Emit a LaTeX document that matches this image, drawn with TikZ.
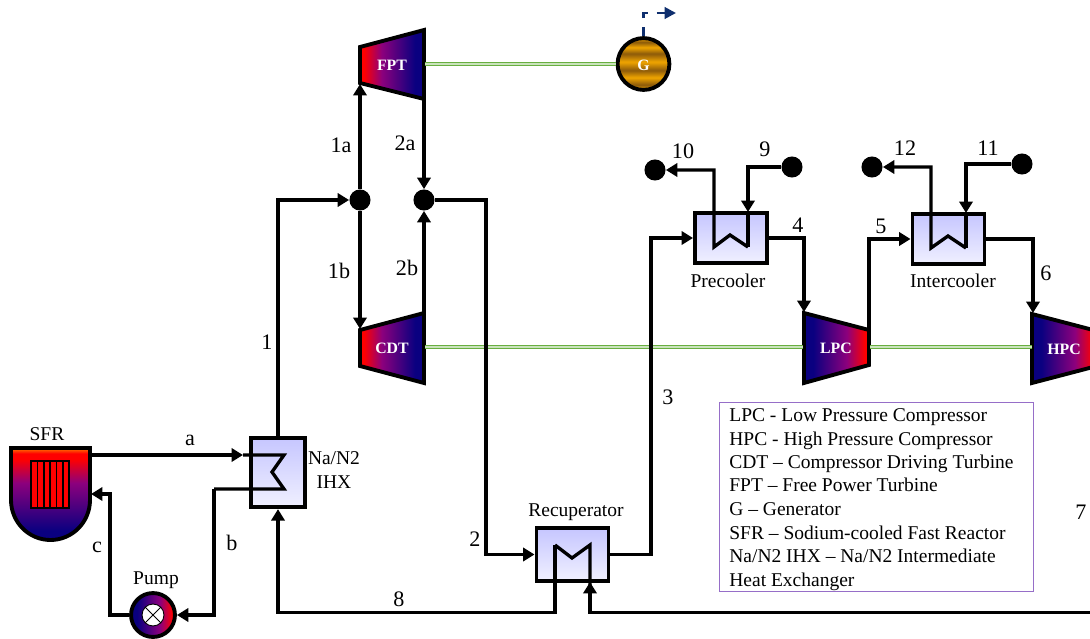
\documentclass[tikz,border=0pt]{standalone}
\usepackage{fontspec}
\setmainfont{Liberation Serif}
\usetikzlibrary{arrows.meta}
\definecolor{shaftgreen}{RGB}{105,175,65}
\definecolor{hotred}{RGB}{255,0,0}
\definecolor{midpurple}{RGB}{140,0,125}
\definecolor{coldblue}{RGB}{10,0,128}
\definecolor{gold}{RGB}{240,165,0}
\definecolor{bronze}{RGB}{140,90,10}
\definecolor{signalblue}{RGB}{15,47,110}
\definecolor{hxtop}{RGB}{198,198,255}
\definecolor{hxbottom}{RGB}{240,240,255}
\definecolor{legendline}{RGB}{150,110,200}
\pgfdeclarehorizontalshading{hotcold}{100bp}{color(0bp)=(orange); color(25bp)=(orange); color(26bp)=(hotred); color(28bp)=(hotred); color(42bp)=(midpurple); color(68bp)=(coldblue); color(100bp)=(coldblue)}
\pgfdeclarehorizontalshading{coldhot}{100bp}{color(0bp)=(coldblue); color(32bp)=(coldblue); color(58bp)=(midpurple); color(72bp)=(hotred); color(75bp)=(hotred); color(100bp)=(hotred)}
\pgfdeclareverticalshading{hottop}{100bp}{color(0bp)=(coldblue); color(30bp)=(coldblue); color(56bp)=(midpurple); color(69bp)=(hotred); color(72bp)=(hotred); color(75bp)=(orange); color(100bp)=(orange)}
\pgfdeclareverticalshading{genbands}{100bp}{color(0bp)=(gold); color(25bp)=(gold); color(30bp)=(bronze); color(37bp)=(gold); color(44bp)=(bronze); color(52bp)=(gold); color(60bp)=(bronze); color(66bp)=(gold); color(71bp)=(bronze); color(75bp)=(gold); color(100bp)=(gold)}
\tikzset{
    flow/.style={line width=1.9pt,-{Triangle[length=6.5pt,width=7.5pt]}},
    pipe/.style={line width=1.9pt,line join=miter},
    shaft/.style={draw=shaftgreen,line width=1pt,double=shaftgreen!35!white,double distance=0.8pt},
    hx/.style={draw,line width=2.2pt,top color=hxtop,bottom color=hxbottom,inner sep=0pt},
    casing/.style={draw,line width=2.2pt},
    joint/.style={circle,fill=black,inner sep=0pt,minimum size=12pt},
    lbl/.style={inner sep=0pt,font=\fontsize{12.6}{15}\selectfont},
    small/.style={inner sep=0pt,font=\fontsize{11.1}{13}\selectfont},
    tag/.style={inner sep=0pt,text=white,font=\fontsize{9}{11}\selectfont\bfseries}
}
\begin{document}
\begin{tikzpicture}[x=0.02cm,y=-0.02cm]
    \clip (0,0) rectangle (1090,639);

    % turbines and compressors
    \draw[casing,shading=hotcold] (360,47) -- (424,30) -- (424,99) -- (360,83) -- cycle;
    \draw[casing,shading=hotcold] (360,330) -- (424,313) -- (424,383) -- (360,366) -- cycle;
    \draw[casing,shading=coldhot] (804,313) -- (869,330) -- (869,365) -- (804,383) -- cycle;
    \draw[casing,shading=coldhot] (1032,314) -- (1097,331) -- (1097,366) -- (1032,383) -- cycle;
    \node[tag] (fpt) at (392,65) {FPT};
    \node[tag] (cdt) at (392,348) {CDT};
    \node[tag] (lpc) at (836,348) {LPC};
    \node[tag] (hpc) at (1064,349) {HPC};

    % ports on the casings
    \coordinate (fptin) at (360,84);
    \coordinate (fptout) at (424,99);
    \coordinate (fptshaft) at (425,64);
    \coordinate (cdtin) at (360,329);
    \coordinate (cdtout) at (424,313);
    \coordinate (cdtshaft) at (425,347);
    \coordinate (lpcin) at (804,312);
    \coordinate (lpcout) at (869,330);
    \coordinate (lpcshafta) at (803,347);
    \coordinate (lpcshaftb) at (870,347);
    \coordinate (hpcin) at (1033,313);
    \coordinate (hpcshaft) at (1032,347);
    \coordinate (return) at (1090,612.5);

    % generator
    \node[circle,draw,line width=2.2pt,shading=genbands,minimum size=29.5pt,inner sep=0pt] (gen) at (643.5,64) {};
    \node[tag] (gentag) at (643.5,65) {G};
    \coordinate (gridturn) at (643.5,13);
    \coordinate (gridend) at (676,13);

    % shafts
    \draw[shaft] (fptshaft) -- (gen.west);
    \draw[shaft] (cdtshaft) -- (lpcshafta);
    \draw[shaft] (lpcshaftb) -- (hpcshaft);
    \draw[signalblue,line width=1.7pt,dash pattern=on 5.3pt off 5pt,-{Triangle[length=6.5pt,width=6.5pt]}] (gen.north) -- (gridturn) -- (gridend);

    % heat exchangers
    \node[hx,minimum width=41pt,minimum height=28.5pt] (precooler) at (731,238) {};
    \node[hx,minimum width=41pt,minimum height=28.5pt] (intercooler) at (948.5,239) {};
    \node[hx,minimum width=41pt,minimum height=30pt] (recuperator) at (572.5,554.5) {};
    \node[hx,minimum width=31pt,minimum height=39.5pt] (ihx) at (278,472.5) {};

    % reactor
    \draw[casing,shading=hottop] (11,448) -- (90,448) -- (90,500) arc[start angle=0,end angle=-180,x radius=39.5,y radius=-40] -- cycle;
    \draw[line width=1.2pt,fill=hotred] (31,461) rectangle (69,508);
    \foreach \x in {37.5,44,50,56.5,63}
        \draw[line width=0.6pt] (\x,461) -- (\x,508);
    \coordinate (sfrout) at (91,455);
    \coordinate (sfrin) at (91,494);

    % pump
    \node[circle,draw,line width=2.2pt,shading=coldhot,minimum size=25pt,inner sep=0pt] (pump) at (153,615) {};
    \node[circle,draw,line width=0.5pt,fill=white,minimum size=12.5pt,inner sep=0pt] (rotor) at (153,615) {};
    \draw[line width=0.5pt] (rotor.north west) -- (rotor.south east);
    \draw[line width=0.5pt] (rotor.north east) -- (rotor.south west);

    % joints and end points
    \foreach \n/\x/\y in {split/360/200,merge/424/200,out10/655/170,in9/792/167,out12/872/167,in11/1022/164}
        \node[joint] (\n) at (\x,\y) {};

    % reactor loop
    \draw[flow] (sfrout) -- (243,455);
    \draw[pipe] (243,455) -- (284,455) -- (272,472) -- (284,489) -- (214,489);
    \draw[flow] (214,489) |- (pump.east);
    \draw[flow] (pump.west) -| (110,494) -- (sfrin);

    % main cycle
    \draw[flow] (ihx.north) |- (split.west);
    \draw[flow] (split.north) -- (fptin);
    \draw[flow] (split.south) -- (cdtin);
    \draw[flow] (fptout) -- (merge.north);
    \draw[flow] (cdtout) -- (merge.south);
    \draw[flow] (merge.east) -| (486,554.5) -- (recuperator.west);
    \draw[flow] (recuperator.east) -- (651,554.5) |- (precooler.west);
    \draw[flow] (precooler.east) -| (lpcin);
    \draw[flow] (lpcout) |- (intercooler.west);
    \draw[flow] (intercooler.east) -| (hpcin);
    \draw[pipe] (555,545) -- (572,558) -- (590,545) -- (590,585);
    \draw[flow] (555,545) -- (555,612.5) -| (ihx.south);
    \draw[flow] (return) -| (590,582);

    % coolers
    \draw[flow] (748,247) -- (730,235) -- (714,247) |- (out10.east);
    \draw[flow] (in9.west) -| (748,212);
    \draw[pipe] (748,212) -- (748,247);
    \draw[flow] (966,248) -- (948,236) -- (931,248) |- (out12.east);
    \draw[flow] (in11.west) -| (966,213);
    \draw[pipe] (966,213) -- (966,248);

    % labels
    \foreach \n/\x/\y/\t in {la/190/440/a,lb/232/543/b,lc/97/547/c,lone/267/342/1,loa/341/145/1a,lob/339/271/1b,lta/405/143/2a,ltb/407/268/2b,ltwo/475/539/2,lthree/668/397/3,lfour/798/225/4,lfive/881/226/5,lsix/1046/273/6,lseven/1081/512/7,leight/399/599/8,lnine/765/149/9,lten/683/151/10,leleven/988/148/11,ltwelve/905/148/12}
        \node[lbl] (\n) at (\x,\y) {\t};
    \foreach \n/\x/\y/\t in {lsfr/47/434/SFR,lpump/156/580/Pump,lrecup/576/512/Recuperator,lprecool/728/281/Precooler,lintercool/953/281/Intercooler,lna/334/458/{Na/N2},lihx/334/482/IHX}
        \node[small] (\n) at (\x,\y) {\t};

    % legend
    \node[draw=legendline,line width=0.5pt,minimum width=178.5pt,minimum height=108pt,inner sep=0pt] (legend) at (876.5,497) {};
    \foreach \n/\y/\t in {a/421/LPC - Low Pressure Compressor,b/445/HPC - High Pressure Compressor,c/468/CDT – Compressor Driving Turbine,d/491/FPT – Free Power Turbine,e/515/G – Generator,f/539/SFR – Sodium-cooled Fast Reactor,g/562/{Na/N2 IHX – Na/N2 Intermediate},h/586/Heat Exchanger}
        \node[small,anchor=base west] (legend\n) at (729,\y) {\t};
\end{tikzpicture}
\end{document}
